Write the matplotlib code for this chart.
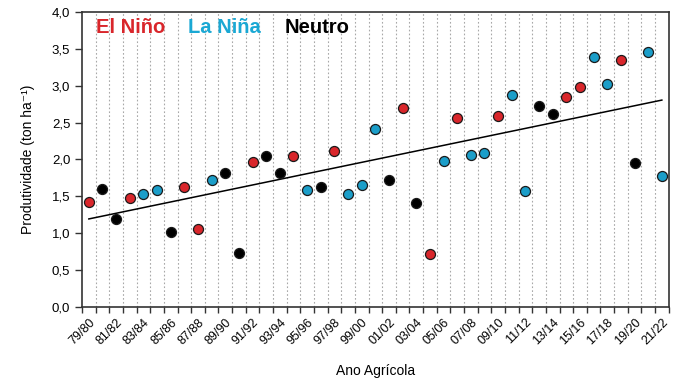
import matplotlib
matplotlib.use("Agg")
import matplotlib.pyplot as plt
import numpy as np

plt.rcParams["font.family"] = ["Liberation Sans", "DejaVu Sans"]

# safras 79/80 .. 21/22
seasons = [f"{y % 100:02d}/{(y + 1) % 100:02d}" for y in range(1979, 2022)]

# produtividade (ton/ha)
yields = [1.42, 1.60, 1.19, 1.47, 1.535, 1.59, 1.015, 1.62, 1.06, 1.72,
          1.82, 0.725, 1.96, 2.05, 1.81, 2.05, 1.59, 1.62, 2.12, 1.535,
          1.66, 2.41, 1.72, 2.70, 1.41, 0.71, 1.98, 2.57, 2.055, 2.09,
          2.585, 2.87, 1.575, 2.73, 2.62, 2.85, 2.985, 3.39, 3.03, 3.35,
          1.95, 3.465, 1.78]

# E = El Nino, L = La Nina, N = Neutro
phase = ["E", "N", "N", "E", "L", "L", "N", "E", "E", "L",
         "N", "N", "E", "N", "N", "E", "L", "N", "E", "L",
         "L", "L", "N", "E", "N", "E", "L", "E", "L", "L",
         "E", "L", "L", "N", "N", "E", "E", "L", "L", "E",
         "N", "L", "L"]

colors = {"E": "#d9262b", "L": "#1b9ec9", "N": "#000000"}
text_colors = {"E": "#d9262b", "L": "#1aa8d4", "N": "#000000"}
names = {"E": "El Niño", "L": "La Niña", "N": "Neutro"}

x = np.arange(len(seasons))
y = np.array(yields)

fig = plt.figure(figsize=(6.79, 3.80), dpi=100)
ax = fig.add_axes([0.1208, 0.193, 0.864, 0.7746])

for key in ["E", "L", "N"]:
    m = np.array([p == key for p in phase])
    ax.scatter(x[m], y[m], s=52, color=colors[key], edgecolors="#1a1a1a",
               linewidths=0.9, zorder=3)

# linha de tendencia
coef = np.polyfit(x, y, 1)
ax.plot(x, np.polyval(coef, x), color="black", lw=1.1, zorder=2)

ax.set_xlim(-0.5, len(seasons) - 0.5)
ax.set_ylim(0, 4)
ax.set_yticks(np.arange(0, 4.01, 0.5))
ax.set_yticklabels([f"{v:.1f}".replace(".", ",") for v in np.arange(0, 4.01, 0.5)],
                   fontsize=9.5)

# divisorias entre safras (estilo Excel)
bounds = np.arange(-0.5, len(seasons), 1.0)
ax.set_xticks(bounds, minor=True)
for b in bounds[1:-1]:
    ax.axvline(b, color="#a8a8a8", lw=0.8, ls=(0, (1.5, 2)), zorder=1)
ax.set_xticks(x[::2])
ax.set_xticklabels(seasons[::2], rotation=45, ha="right", va="top",
                   rotation_mode="anchor", fontsize=9)
ax.tick_params(axis="x", which="major", length=0, pad=7)
ax.tick_params(axis="x", which="minor", length=4, width=1, color="#333333")
ax.tick_params(axis="y", length=5, width=1, color="#333333")

for s in ax.spines.values():
    s.set_color("#333333")
    s.set_linewidth(1.2)

ax.set_xlabel("Ano Agrícola", fontsize=10, labelpad=12)
ax.set_ylabel("Produtividade (ton ha⁻¹)", fontsize=10, labelpad=12)

# legenda em texto colorido
xpos = [0.024, 0.181, 0.345]
for xp, key in zip(xpos, ["E", "L", "N"]):
    ax.text(xp, 0.947, names[key], transform=ax.transAxes, color=text_colors[key],
            fontsize=14.5, fontweight="bold", ha="left", va="center")

fig.savefig("out.png", dpi=100)
